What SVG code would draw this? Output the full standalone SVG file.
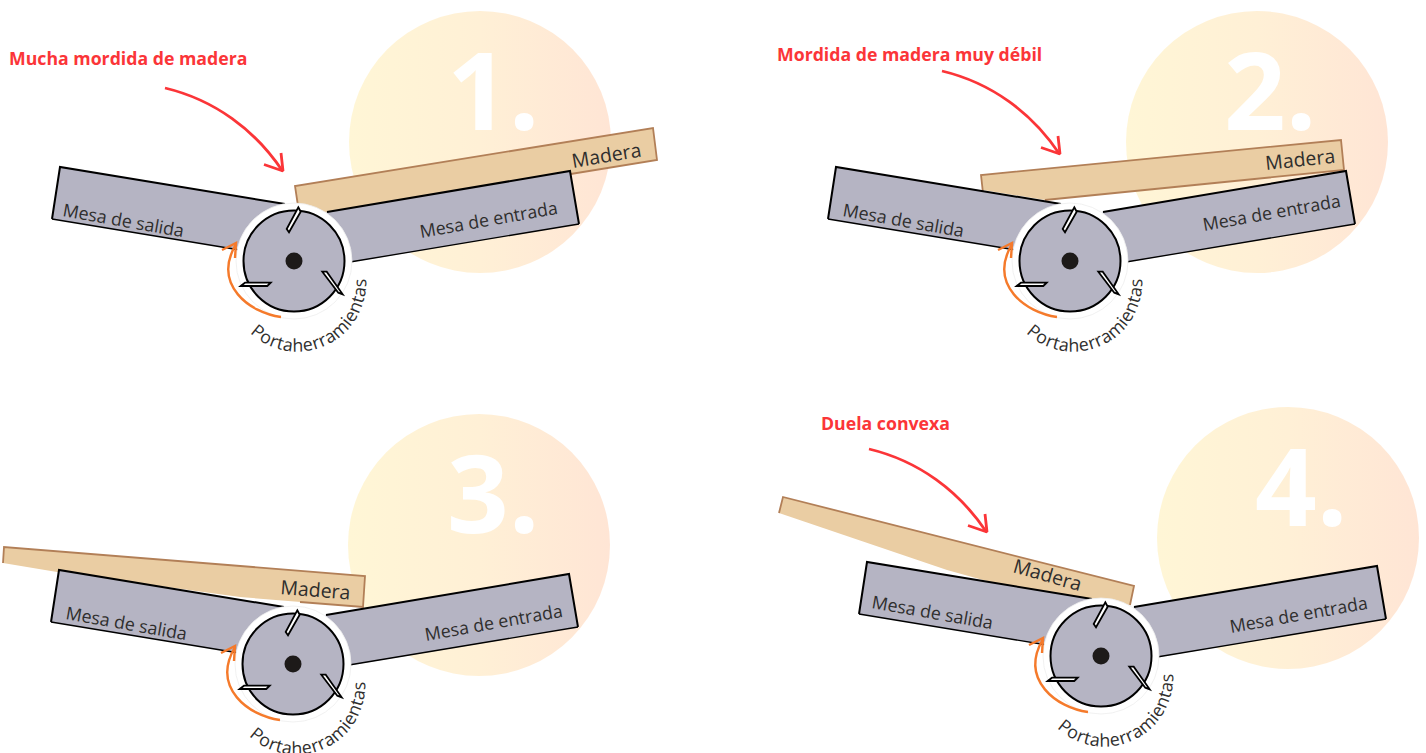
<svg xmlns="http://www.w3.org/2000/svg" xmlns:xlink="http://www.w3.org/1999/xlink" width="1426" height="753" viewBox="0 0 1426 753">
<style>
text{font-family:"Open Sans","Noto Sans","Liberation Sans",sans-serif;fill:#2f2e2d}
.num{font-size:108px;font-weight:700;fill:#fff}
.red{font-size:17.700px;font-weight:700;fill:#fb3538}
.lb{font-size:17.800px}
.cv{font-size:17.800px;letter-spacing:0.45px}
.md{font-size:19.500px}
.tb{fill:#b5b4c3;stroke:none}
.ed{fill:none;stroke:#000;stroke-width:2}
.ed2{fill:none;stroke:#000;stroke-width:1.3}
.wd{fill:#eacda3;stroke:none}
.we{fill:none;stroke:#b27f57;stroke-width:1.8}
.bl{fill:#fff;stroke:#000;stroke-width:1.8;stroke-linejoin:miter}
.or{fill:none;stroke:#f57a2b;stroke-width:2.4}
.ra{fill:none;stroke:#fb3538;stroke-width:2.8;stroke-linejoin:bevel}
</style>
<defs>
<linearGradient id="bg" x1="0" x2="1" y1="0" y2="0"><stop offset="0" stop-color="#fff6d6"/><stop offset="0.5" stop-color="#fff0d6"/><stop offset="1" stop-color="#ffe5d5"/></linearGradient>
<path id="pa" d="M250 333A69 69 0 0 0 362 259"/>
<g id="machine">
<polygon class="tb" points="60,167 285,204 300,262 240,250 52,219"/>
<polygon class="tb" points="570,171 579,224 340,264 300,240 327,212"/>
<path class="ed" d="M285 204L60 167L52 219"/>
<path class="ed2" d="M52 219L240 250"/>
<path class="ed" d="M327 212L570 171L579 224"/>
<path class="ed2" d="M579 224L350 262"/>
<circle cx="294" cy="261" r="58" fill="#fff" stroke="#eee" stroke-width="0.8"/>
<circle cx="294" cy="261" r="50.500" fill="#b5b4c3" stroke="#000" stroke-width="2"/>
<circle cx="294" cy="261" r="8.500" fill="#1d1a19"/>
<polygon class="bl" points="298.300,207.300 300.700,211.700 289,232.300 286.700,229"/>
<polygon class="bl" points="322.300,271.700 326.700,271.700 342.700,294.300 338.300,292.700"/>
<polygon class="bl" points="240.700,286 245,282.700 270.700,282.700 267.300,286"/>
<path class="or" d="M281 317C250 313 212 285 236 244"/>
<path class="or" d="M222 250L236 243L235 258"/>
</g>
<g id="redarrow"><path class="ra" d="M165 88C215 100 255 130 282.500 171"/><path class="ra" d="M264 164.500L283 171L281 153"/></g>
</defs>

<g id="panel-1">
<circle cx="480" cy="142" r="131" fill="url(#bg)"/>
<text class="num" x="447" y="130">1.</text>
<polygon class="wd" points="295,186 653,128 657,160 330,213 298,208"/>
<path class="we" d="M298 206L295 186L653 128L657 160L540 179"/>
<use href="#machine"/>
<text class="md" transform="translate(573,168) rotate(-9.500)">Madera</text>
<text class="lb" transform="translate(62,216) rotate(10)">Mesa de salida</text>
<text class="lb" transform="translate(421,238) rotate(-10)">Mesa de entrada</text>
<text class="cv"><textPath href="#pa">Portaherramientas</textPath></text>
<use href="#redarrow"/>
<text class="red" x="9" y="65">Mucha mordida de madera</text>
</g>

<g id="panel-2">
<circle cx="1257" cy="142" r="131" fill="url(#bg)"/>
<text class="num" x="1224" y="130">2.</text>
<polygon class="wd" points="981,175 1341,140 1344,170 1045,200 983,190"/>
<path class="we" d="M983 193L981 175L1341 140L1344 170L1045 200"/>
<g transform="translate(776,0)">
<use href="#machine"/>
<text class="lb" transform="translate(66,216) rotate(10)">Mesa de salida</text>
<text class="lb" transform="translate(428,231) rotate(-10)">Mesa de entrada</text>
<text class="cv"><textPath href="#pa">Portaherramientas</textPath></text>
</g>
<text class="md" transform="translate(1266,170) rotate(-6)">Madera</text>
<g transform="translate(777,-17)"><use href="#redarrow"/></g>
<text class="red" x="777" y="61">Mordida de madera muy débil</text>
</g>

<g id="panel-3">
<circle cx="479" cy="545" r="131" fill="url(#bg)"/>
<text class="num" x="447" y="533">3.</text>
<polygon class="wd" points="4,547 365,576 363,607 240,597 57,572 3,563"/>
<path class="we" d="M3 563L4 547L365 576L363 607L300 602"/>
<g transform="translate(-1,403)">
<use href="#machine"/>
<text class="lb" transform="translate(66,216) rotate(10)">Mesa de salida</text>
<text class="lb" transform="translate(427,238) rotate(-10)">Mesa de entrada</text>
<text class="cv"><textPath href="#pa">Portaherramientas</textPath></text>
</g>
<text class="md" transform="translate(280,594) rotate(4.500)">Madera</text>
</g>

<g id="panel-4">
<circle cx="1288" cy="538" r="131" fill="url(#bg)"/>
<text class="num" x="1255" y="526">4.</text>
<polygon class="wd" points="783,497 1134,586 1130,605 1060,600 983,580 947,570 779,513"/>
<path class="we" d="M779 513L783 497L1134 586L1130 605"/>
<g transform="translate(807,395)">
<use href="#machine"/>
<text class="lb" transform="translate(64,213) rotate(10)">Mesa de salida</text>
<text class="lb" transform="translate(424,238) rotate(-10)">Mesa de entrada</text>
<text class="cv"><textPath href="#pa">Portaherramientas</textPath></text>
</g>
<text class="md" transform="translate(1012,572) rotate(16)">Madera</text>
<g transform="translate(704,361)"><use href="#redarrow"/></g>
<text class="red" x="821" y="430">Duela convexa</text>
</g>
</svg>
